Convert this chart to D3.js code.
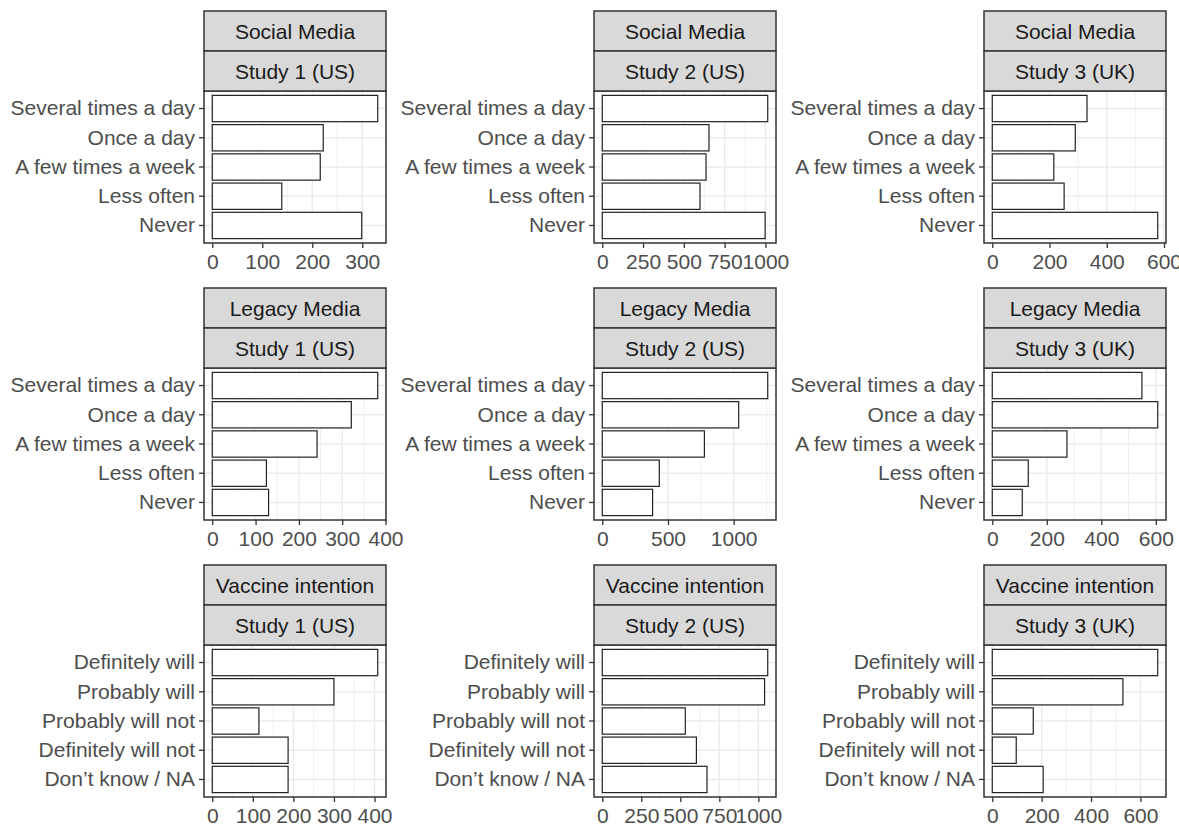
<!DOCTYPE html>
<html>
<head>
<meta charset="utf-8">
<script src="https://cdn.jsdelivr.net/npm/d3@7"></script>
<style>
  html, body { margin: 0; padding: 0; background: #ffffff; }
  svg { display: block; }
</style>
</head>
<body>
<svg id="chart" width="1179" height="826"></svg>
<script>
// ---------------- DATA ----------------
const frequencyCategories = ["Several times a day", "Once a day", "A few times a week", "Less often", "Never"];
const vaccineCategories = ["Definitely will", "Probably will", "Probably will not", "Definitely will not", "Don’t know / NA"];

const rowTitles = ["Social Media", "Legacy Media", "Vaccine intention"];
const studyTitles = ["Study 1 (US)", "Study 2 (US)", "Study 3 (UK)"];

const socialStudy1 = [331, 222, 216, 139, 299];
const socialStudy2 = [1014, 654, 636, 599, 998];
const socialStudy3 = [331, 290, 215, 251, 578];

const legacyStudy1 = [382, 321, 242, 125, 130];
const legacyStudy2 = [1259, 1038, 777, 434, 383];
const legacyStudy3 = [549, 607, 274, 132, 110];

const vaccineStudy1 = [408, 300, 115, 187, 187];
const vaccineStudy2 = [1060, 1040, 532, 603, 671];
const vaccineStudy3 = [670, 529, 166, 97, 206];

const ticksSocial = [[0, 100, 200, 300], [0, 250, 500, 750, 1000], [0, 200, 400, 600]];
const ticksLegacy = [[0, 100, 200, 300, 400], [0, 500, 1000], [0, 200, 400, 600]];
const ticksVaccine = [[0, 100, 200, 300, 400], [0, 250, 500, 750, 1000], [0, 200, 400, 600]];

const rowsData = [
  { cats: frequencyCategories, values: [socialStudy1, socialStudy2, socialStudy3], ticks: ticksSocial },
  { cats: frequencyCategories, values: [legacyStudy1, legacyStudy2, legacyStudy3], ticks: ticksLegacy },
  { cats: vaccineCategories, values: [vaccineStudy1, vaccineStudy2, vaccineStudy3], ticks: ticksVaccine }
];

// ---------------- LAYOUT ----------------
const FONT = "'Liberation Sans', Arial, Helvetica, sans-serif";
const FS = 21;
const rowTop0 = 11, rowStep = 277;
const colLeft0 = 204, colStep = 390;
const panelW = 182, panelH = 152, stripH = 40;
const tickLen = 5;

const svg = d3.select("#chart");

rowsData.forEach((row, ri) => {
  row.values.forEach((vals, ci) => {
    const left = colLeft0 + ci * colStep;
    const top = rowTop0 + ri * rowStep;
    const pTop = top + 2 * stripH;
    const g = svg.append("g");

    const maxV = d3.max(vals);
    const x = d3.scaleLinear()
      .domain([-0.05 * maxV, 1.05 * maxV])
      .range([left, left + panelW]);
    // discrete expansion of 0.6 units each side
    const n = row.cats.length;
    const unit = panelH / (n - 1 + 1.2);
    const y = d3.scaleBand()
      .domain(row.cats)
      .range([pTop + 0.1 * unit, pTop + panelH - 0.1 * unit])
      .paddingInner(0.1)
      .paddingOuter(0.05);

    // panel background
    g.append("rect").attr("x", left).attr("y", pTop).attr("width", panelW).attr("height", panelH)
      .attr("fill", "#ffffff");

    // minor grid
    const ticks = row.ticks[ci];
    const step = ticks[1] - ticks[0];
    const dom = x.domain();
    const minor = [];
    for (let v = ticks[0] - step / 2; v <= ticks[ticks.length - 1] + step; v += step) {
      if (v >= dom[0] && v <= dom[1]) minor.push(v);
    }
    g.selectAll(".minor").data(minor).enter().append("line")
      .attr("x1", d => x(d)).attr("x2", d => x(d))
      .attr("y1", pTop).attr("y2", pTop + panelH)
      .attr("stroke", "#EBEBEB").attr("stroke-width", 0.75);
    // major grid vertical
    g.selectAll(".major").data(ticks).enter().append("line")
      .attr("x1", d => x(d)).attr("x2", d => x(d))
      .attr("y1", pTop).attr("y2", pTop + panelH)
      .attr("stroke", "#EBEBEB").attr("stroke-width", 1.5);
    // major grid horizontal
    g.selectAll(".hmajor").data(row.cats).enter().append("line")
      .attr("x1", left).attr("x2", left + panelW)
      .attr("y1", d => y(d) + y.bandwidth() / 2).attr("y2", d => y(d) + y.bandwidth() / 2)
      .attr("stroke", "#EBEBEB").attr("stroke-width", 1.5);

    // bars
    g.selectAll(".bar").data(row.cats.map((c, i) => ({ c, v: vals[i] }))).enter().append("rect")
      .attr("x", x(0))
      .attr("y", d => y(d.c))
      .attr("width", d => x(d.v) - x(0))
      .attr("height", y.bandwidth())
      .attr("fill", "#ffffff")
      .attr("stroke", "#222222")
      .attr("stroke-width", 1.2);

    // panel border
    g.append("rect").attr("x", left).attr("y", pTop).attr("width", panelW).attr("height", panelH)
      .attr("fill", "none").attr("stroke", "#333333").attr("stroke-width", 1.5);

    // strips
    [rowTitles[ri], studyTitles[ci]].forEach((label, si) => {
      const sy = top + si * stripH;
      g.append("rect").attr("x", left).attr("y", sy).attr("width", panelW).attr("height", stripH)
        .attr("fill", "#D9D9D9").attr("stroke", "#333333").attr("stroke-width", 1.5);
      g.append("text").attr("x", left + panelW / 2).attr("y", sy + stripH / 2 + FS * 0.36)
        .attr("text-anchor", "middle").attr("font-family", FONT).attr("font-size", FS)
        .attr("fill", "#1A1A1A").text(label);
    });

    // x axis
    const xAxis = d3.axisBottom(x).tickValues(ticks).tickSize(tickLen).tickSizeOuter(0).tickPadding(6)
      .tickFormat(d3.format("d"));
    const xa = g.append("g").attr("transform", `translate(0,${pTop + panelH})`).call(xAxis);
    xa.select(".domain").remove();
    xa.selectAll(".tick line").attr("stroke", "#333333").attr("stroke-width", 1.3);
    xa.selectAll(".tick text").attr("font-family", FONT).attr("font-size", FS).attr("fill", "#4D4D4D");

    // y axis
    const yAxis = d3.axisLeft(y).tickSize(tickLen).tickSizeOuter(0).tickPadding(4);
    const ya = g.append("g").attr("transform", `translate(${left},0)`).call(yAxis);
    ya.select(".domain").remove();
    ya.selectAll(".tick line").attr("stroke", "#333333").attr("stroke-width", 1.3);
    ya.selectAll(".tick text").attr("font-family", FONT).attr("font-size", FS).attr("fill", "#4D4D4D");
  });
});
</script>
</body>
</html>
